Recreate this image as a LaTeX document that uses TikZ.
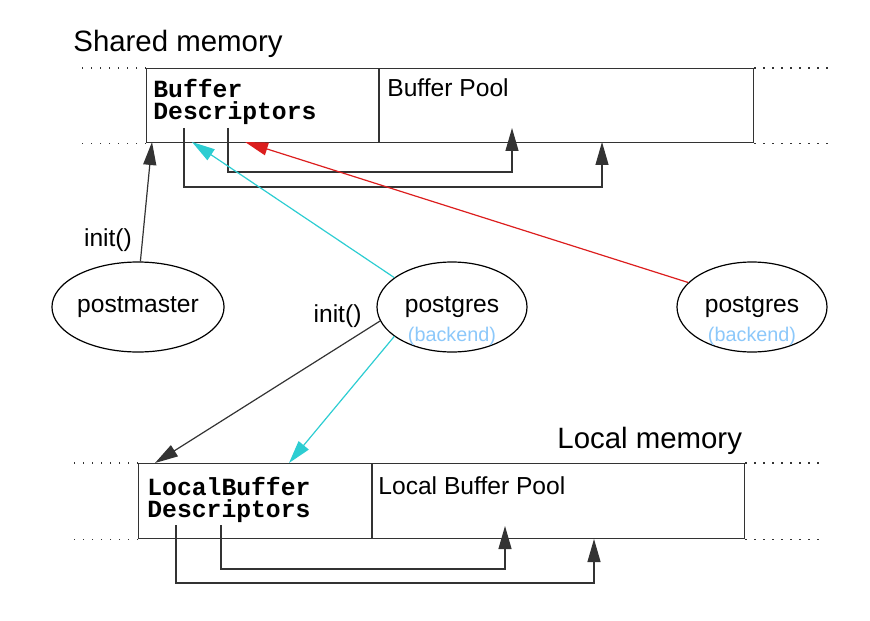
\documentclass[tikz,border=0pt]{standalone}
\usepackage{fontspec}
\setmainfont{Liberation Sans}
\setmonofont{Liberation Mono}
\usepackage{tikz}
\usetikzlibrary{shapes}
\usetikzlibrary{arrows.meta}
\usetikzlibrary{calc}
\definecolor{ptrcyan}{RGB}{45,205,210}
\definecolor{ptrred}{RGB}{220,30,30}
\definecolor{bkblue}{RGB}{140,200,250}
\tikzstyle{mem} = [rectangle,draw=black!80,line width=0.6pt,inner sep=0pt,minimum height=37pt,anchor=north west]
\tikzstyle{proc} = [ellipse,draw,line width=0.6pt,inner sep=0pt,minimum width=75pt,minimum height=45pt,font=\fontsize{12.3}{14}\selectfont]
\tikzstyle{desc} = [anchor=base west,inner sep=0pt,align=left,font=\ttfamily\bfseries\fontsize{12.35}{11}\selectfont]
\tikzstyle{txt} = [anchor=base west,inner sep=0pt,font=\fontsize{12.3}{14}\selectfont]
\tikzstyle{title} = [anchor=base west,inner sep=0pt,font=\fontsize{14.7}{17}\selectfont]
\tikzstyle{bk} = [text=bkblue,inner sep=0pt,anchor=base,font=\fontsize{9.9}{12}\selectfont]
\tikzstyle{edgeline} = [draw=black!80,line width=0.6pt,dash pattern=on 0.6pt off 3.9pt]

\begin{document}
\begin{tikzpicture}
	[x=0.5pt,y=-0.5pt,line join=miter]
	\tikzstyle{ptr}=[-{Triangle[length=11.5pt,width=6.5pt]},draw=black!80,line width=0.6pt];
	\tikzstyle{lbl}=[inner sep=0pt,font=\fontsize{12.3}{14}\selectfont];
	\useasboundingbox (0,0) rectangle (870,620);

	% shared memory
	\node (shtitle) [title] at (73,52) {Shared memory};
	\node (sd) [mem,minimum width=116pt] at (146,68) {};
	\node (sp) [mem,minimum width=187pt] at (sd.north east) {};
	\node (sdtext) [desc] at (153,120) {Buffer\\Descriptors};
	\node (sptext) [txt] at (387,97) {Buffer Pool};
	\draw[edgeline] (sd.north west) -- ++(-71,0);
	\draw[edgeline] (sd.south west) -- ++(-71,0);
	\draw[edgeline] (sp.north east) -- ++(75,0);
	\draw[edgeline] (sp.south east) -- ++(75,0);

	% local memory
	\node (lotitle) [title] at (557,448) {Local memory};
	\node (ld) [mem,minimum width=116.5pt,minimum height=37.5pt] at (138,463) {};
	\node (lp) [mem,minimum width=186pt,minimum height=37.5pt] at (ld.north east) {};
	\node (ldtext) [desc] at (147,517) {LocalBuffer\\Descriptors};
	\node (lptext) [txt] at (378,494) {Local Buffer Pool};
	\draw[edgeline] (ld.north west) -- ++(-71,0);
	\draw[edgeline] (ld.south west) -- ++(-71,0);
	\draw[edgeline] (lp.north east) -- ++(77,0);
	\draw[edgeline] (lp.south east) -- ++(77,0);

	% processes
	\node (pm) [proc] at (138,307) {postmaster};
	\node (pg1) [proc,label={[bk,yshift=-14.5pt]center:(backend)}] at (452,307) {postgres};
	\node (pg2) [proc,label={[bk,yshift=-14.5pt]center:(backend)}] at (752,307) {postgres};

	% descriptor -> pool pointers
	\coordinate (sd1) at (184,128);
	\coordinate (sd2) at (228,128);
	\coordinate (sp1) at (512,128);
	\coordinate (sp2) at (602,142);
	\draw[ptr] (sd2) -- ++(0,44) -| (sp1);
	\draw[ptr] (sd1) -- ++(0,59) -| (sp2);
	\coordinate (ld1) at (176,525);
	\coordinate (ld2) at (221,525);
	\coordinate (lp1) at (505,526);
	\coordinate (lp2) at (594,539);
	\draw[ptr] (ld2) -- ++(0,44) -| (lp1);
	\draw[ptr] (ld1) -- ++(0,58) -| (lp2);

	% process -> memory
	\coordinate (sdin) at (152,142);
	\coordinate (sdcy) at (192,142);
	\coordinate (sdrd) at (245,142);
	\coordinate (ldin) at (155,463);
	\coordinate (ldcy) at (289,463);
	\draw[ptr] (pm.87) -- node[lbl,pos=0.18,left=5pt] {init()} (sdin);
	\draw[ptr,draw=ptrcyan] (pg1.153) -- (sdcy);
	\draw[ptr,draw=ptrred] (pg2.159) -- (sdrd);
	\draw[ptr] (pg1.191) -- node[lbl,pos=0,anchor=east,xshift=-9pt,yshift=2.5pt] {init()} (ldin);
	\draw[ptr,draw=ptrcyan] (pg1.207) -- (ldcy);
\end{tikzpicture}
\end{document}
